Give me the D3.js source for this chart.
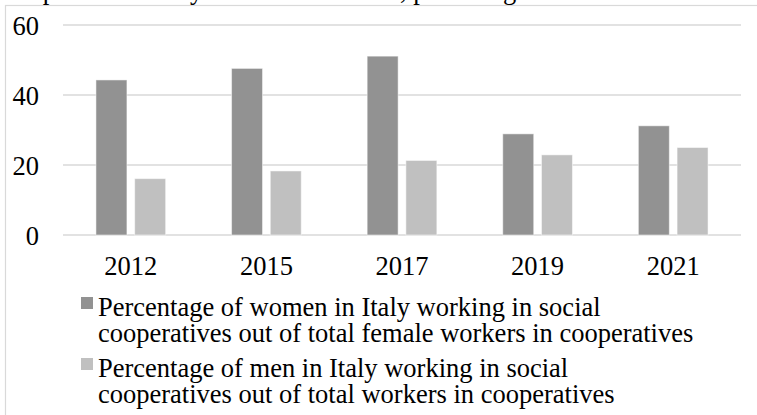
<!DOCTYPE html>
<html>
<head>
<meta charset="utf-8">
<script src="https://cdn.jsdelivr.net/npm/d3@7"></script>
<style>
  html, body { margin: 0; padding: 0; background: #ffffff; }
  svg { display: block; }
  svg text { font-family: "Liberation Serif", "Times New Roman", Times, "DejaVu Serif", serif !important; fill: #000; }
</style>
</head>
<body>
<svg id="chart" width="757" height="415"></svg>
<script>
// Survey years on the category axis
const years = ["2012", "2015", "2017", "2019", "2021"];

// Share of women in social cooperatives (% of female co-op workers)
const womenShare = [44.3, 47.6, 51.1, 28.9, 31.2];

// Share of men in social cooperatives (% of co-op workers)
const menShare = [16.1, 18.3, 21.3, 22.9, 25.0];

// Value-axis ticks
const yTicks = [0, 20, 40, 60];

const seriesNames = [
  ["Percentage of women in Italy working in social",
   "cooperatives out of total female workers in cooperatives"],
  ["Percentage of men in Italy working in social",
   "cooperatives out of total workers in cooperatives"]
];
const seriesColors = ["#929292", "#c0c0c0"];
const titleText = "Proportion of Italy's women and men, percentage of workers in social cooperatives";

const FS = 26.5;
const series = [womenShare, menShare];
const svg = d3.select("#chart");
const W = 757, H = 415;
const plot = { left: 63, right: 741, top: 25, bottom: 235 };

// outer chart frame (runs past the right and bottom edges)
svg.append("rect")
  .attr("x", 5.5).attr("y", 5.5)
  .attr("width", W + 20).attr("height", H + 20)
  .attr("fill", "none")
  .attr("stroke", "#d9d9d9")
  .attr("stroke-width", 1.2);

// title, sitting above the frame
svg.append("text")
  .attr("x", 6)
  .attr("y", -1.5)
  .style("font-size", FS + "px")
  .text(titleText);

const x0 = d3.scaleBand().domain(years).range([plot.left, plot.right]).padding(0);
const groupInset = x0.bandwidth() * 0.243;
const x1 = d3.scaleBand().domain([0, 1])
  .range([groupInset, x0.bandwidth() - groupInset])
  .paddingInner(0.2).paddingOuter(0);
const y = d3.scaleLinear().domain([0, 60]).range([plot.bottom, plot.top]);

// horizontal gridlines
svg.append("g")
  .selectAll("line")
  .data(yTicks)
  .join("line")
  .attr("x1", plot.left).attr("x2", plot.right)
  .attr("y1", d => y(d)).attr("y2", d => y(d))
  .attr("stroke", "#d9d9d9")
  .attr("stroke-width", 1.5);

// value axis labels
const yAxis = d3.axisLeft(y).tickValues(yTicks).tickSize(0).tickPadding(0);
const yg = svg.append("g").attr("transform", `translate(${plot.left - 24},0)`).call(yAxis);
yg.attr("font-family", null).attr("font-size", null);
yg.select(".domain").remove();
yg.selectAll("text")
  .style("font-size", FS + "px")
  .attr("fill", "#000")
  .attr("dy", "0.36em");

// bars
const groups = svg.append("g")
  .selectAll("g")
  .data(years)
  .join("g")
  .attr("transform", d => `translate(${x0(d)},0)`);

groups.selectAll("rect")
  .data((d, i) => series.map((s, k) => ({ k, v: s[i] })))
  .join("rect")
  .attr("x", d => x1(d.k))
  .attr("width", x1.bandwidth())
  .attr("y", d => y(d.v))
  .attr("height", d => y(0) - y(d.v))
  .attr("fill", d => seriesColors[d.k])
  .attr("stroke", "#ffffff")
  .attr("stroke-opacity", 0.5)
  .attr("stroke-width", 1);

// category axis labels
const xAxis = d3.axisBottom(x0).tickSize(0).tickPadding(0);
const xg = svg.append("g").attr("transform", `translate(0,${plot.bottom + 21})`).call(xAxis);
xg.attr("font-family", null).attr("font-size", null);
xg.select(".domain").remove();
xg.selectAll("text")
  .style("font-size", FS + "px")
  .attr("fill", "#000")
  .attr("dy", "0.71em");

// legend
const legendTops = [316, 377];
const legend = svg.append("g");
seriesNames.forEach((lines, k) => {
  const base = legendTops[k];
  legend.append("rect")
    .attr("x", 81).attr("y", base - 19)
    .attr("width", 12).attr("height", 12)
    .attr("fill", seriesColors[k]);
  const t = legend.append("text")
    .attr("x", 98).attr("y", base)
    .style("font-size", FS + "px");
  lines.forEach((ln, j) => {
    t.append("tspan").attr("x", 98).attr("y", base + j * 26).text(ln);
  });
});
</script>
</body>
</html>
